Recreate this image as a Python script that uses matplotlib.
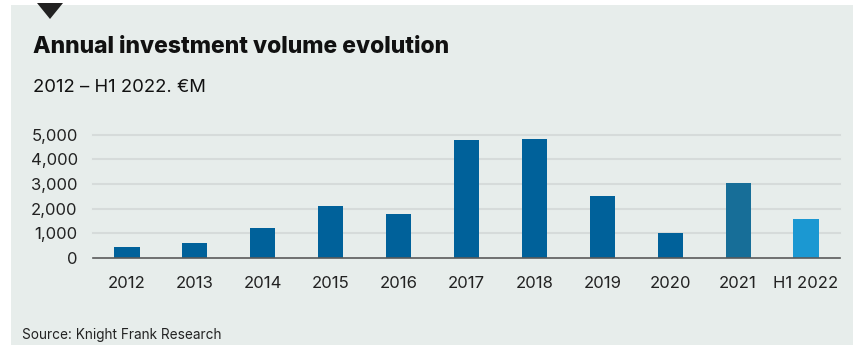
"""Annual investment volume evolution bar chart."""
import matplotlib
matplotlib.use("Agg")
import matplotlib.pyplot as plt
from matplotlib.patches import Rectangle, Polygon

categories = ["2012", "2013", "2014", "2015", "2016", "2017", "2018",
              "2019", "2020", "2021", "H1 2022"]
volumes = [450, 600, 1200, 2100, 1790, 4780, 4820, 2520, 1015, 3060, 1590]
bar_colors = ["#00619a"] * 9 + ["#176e98", "#1b98d2"]
yticks = [0, 1000, 2000, 3000, 4000, 5000]

plt.rcParams["font.family"] = ["Inter", "DejaVu Sans"]

W, H = 859, 347
fig = plt.figure(figsize=(W / 100, H / 100), dpi=100)
fig.patch.set_facecolor("white")

# background panel and marker triangle
fig.patches.append(Rectangle((11 / W, 2 / H), 842 / W, 340 / H,
                             transform=fig.transFigure, facecolor="#e7edeb",
                             edgecolor="none", zorder=-10))
fig.patches.append(Polygon([(37 / W, 1 - 3 / H), (63 / W, 1 - 3 / H),
                            (50 / W, 1 - 19 / H)], closed=True,
                           transform=fig.transFigure, facecolor="#222222",
                           edgecolor="none", zorder=-9))

fig.text(33 / W, 1 - 47 / H, "Annual investment volume evolution",
         fontsize=16.5, fontweight="heavy", color="#111111", va="center")
fig.text(33 / W, 1 - 88 / H, "2012 – H1 2022. €M", fontsize=13.3,
         color="#111111", va="center")
fig.text(22 / W, 1 - 335 / H, "Source: Knight Frank Research", fontsize=9.8,
         color="#222222", va="center")

ax = fig.add_axes([93 / W, 1 - 258 / H, 747 / W, (258 - 134.7) / H])
ax.set_facecolor("none")
x = range(len(categories))
ax.bar(x, volumes, width=0.37, color=bar_colors, zorder=3)
ax.set_xlim(-0.5, len(categories) - 0.5)
ax.set_ylim(0, 5000)
ax.set_xticks(list(x), categories)
ax.set_yticks(yticks, [f"{v:,}" for v in yticks])
for v in yticks[1:]:
    ax.axhline(v, color="#d6dbda", linewidth=1.5, zorder=1, clip_on=False)
ax.axhline(0, color="#5a5a5a", linewidth=1.2, zorder=4, clip_on=False)
for s in ax.spines.values():
    s.set_visible(False)
ax.tick_params(length=0, labelsize=12, colors="#222222")
ax.tick_params(axis="x", pad=13)
ax.tick_params(axis="y", pad=11)

fig.savefig("out.png", dpi=100, facecolor=fig.get_facecolor())
